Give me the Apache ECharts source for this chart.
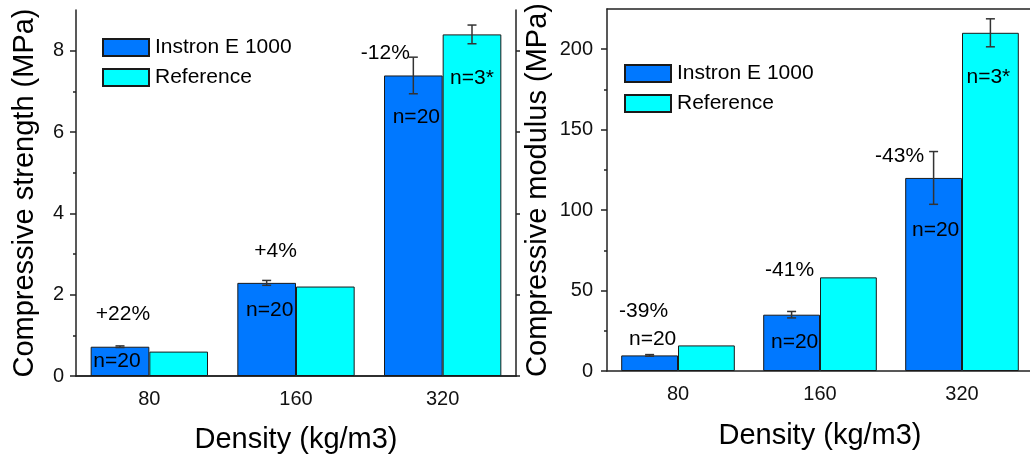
<!DOCTYPE html>
<html><head><meta charset="utf-8">
<script src="https://cdn.jsdelivr.net/npm/echarts@6/dist/echarts.min.js"></script>
<style>html,body{margin:0;padding:0;background:#fff}#c{width:1030px;height:454px}</style>
</head><body><div id="c"></div>
<script>
// ---------------- data ----------------
const categories = ['80', '160', '320'];
const seriesNames = ['Instron E 1000', 'Reference'];

const strengthInstron = [0.72, 2.29, 7.39];
const strengthInstronErr = [0.02, 0.06, 0.45];
const strengthReference = [0.60, 2.20, 8.40];
const strengthReferenceErr = [0, 0, 0.23];

const modulusInstron = [9.7, 35.0, 120.0];
const modulusInstronErr = [0.5, 2.0, 16.4];
const modulusReference = [15.9, 58.2, 210.2];
const modulusReferenceErr = [0, 0, 8.7];

const strengthTicks = [0, 2, 4, 6, 8];
const strengthMinorTicks = [1, 3, 5, 7];
const modulusTicks = [0, 50, 100, 150, 200];
const modulusMinorTicks = [25, 75, 125, 175];

const strengthChange = ['+22%', '+4%', '-12%'];
const modulusChange = ['-39%', '-41%', '-43%'];
const instronN = ['n=20', 'n=20', 'n=20'];
const referenceN = ['', '', 'n=3*'];

// ---------------- layout / style ----------------
const FONT = '"Liberation Sans", Arial, sans-serif';
const BLUE = '#0078FF';
const CYAN = '#00FFFF';
const AXIS = '#222';
// label pixel offsets relative to bar centre / bar top
const L = {
  sPct: [[3, -33], [9, -32], [-28, -22]],
  sN: [[-3, 14], [3, 27], [3, 42]],
  sRefN: [[0, 0], [0, 0], [0, 44]],
  mPct: [[-6, -44], [-2, -44], [-34, -22]],
  mN: [[3, -16], [3, 28], [2, 52]],
  mRefN: [[0, 0], [0, 0], [-2, 44]]
};

function errorSeries(xi, yi, values, errs, side) {
  return {
    type: 'custom', xAxisIndex: xi, yAxisIndex: yi, z: 5, silent: true,
    data: values.map((v, i) => [i, v, errs[i]]),
    renderItem(params, api) {
      const i = api.value(0), v = api.value(1), e = api.value(2);
      if (!e) return null;
      const band = api.size([1, 0])[0];
      const x = api.coord([i, v])[0] + side * 0.2 * band;
      const yT = api.coord([i, v + e])[1], yB = api.coord([i, v - e])[1];
      const c = 4.5;
      const st = { stroke: '#333', lineWidth: 1.5 };
      return { type: 'group', children: [
        { type: 'line', shape: { x1: x, y1: yT, x2: x, y2: yB }, style: st },
        { type: 'line', shape: { x1: x - c, y1: yT, x2: x + c, y2: yT }, style: st },
        { type: 'line', shape: { x1: x - c, y1: yB, x2: x + c, y2: yB }, style: st }
      ] };
    }
  };
}

function labelSeries(xi, yi, values, texts, side, offs) {
  return {
    type: 'custom', xAxisIndex: xi, yAxisIndex: yi, z: 6, silent: true,
    data: values.map((v, i) => [i, v]),
    renderItem(params, api) {
      const i = params.dataIndex;
      const t = texts[i];
      if (!t) return null;
      const band = api.size([1, 0])[0];
      const p = api.coord([api.value(0), api.value(1)]);
      const o = offs[i];
      return { type: 'text', x: p[0] + side * 0.2 * band + o[0], y: p[1] + o[1],
        style: { text: t, fill: '#000', font: '21px ' + FONT, align: 'center', verticalAlign: 'middle' } };
    }
  };
}

function xAxes(grid, name, gap) {
  return [
    { type: 'category', gridIndex: grid, data: categories, position: 'bottom',
      axisLine: { lineStyle: { color: AXIS, width: 1.5 } },
      axisTick: { alignWithLabel: true, length: 6, lineStyle: { color: AXIS, width: 1.5 } },
      axisLabel: { fontSize: 20, fontFamily: FONT, color: '#111', margin: 13 },
      name: name, nameLocation: 'middle', nameGap: gap,
      nameTextStyle: { fontSize: 29, fontFamily: FONT, color: '#000' } },
    { type: 'category', gridIndex: grid, data: categories, position: 'bottom',
      axisLine: { show: false }, axisLabel: { show: false },
      axisTick: { length: 3, lineStyle: { color: AXIS, width: 1.5 } } },
    { type: 'category', gridIndex: grid, data: categories, position: 'top',
      axisLine: { lineStyle: { color: AXIS, width: 1.5 } }, axisLabel: { show: false },
      axisTick: { length: 3, lineStyle: { color: AXIS, width: 1.5 } } }
  ];
}

function yAxes(grid, max, ticks, minor, name, gap, withRight, margin) {
  const a = [
    { type: 'value', gridIndex: grid, min: 0, max: max, position: 'left',
      splitLine: { show: false },
      axisLine: { show: true, lineStyle: { color: AXIS, width: 1.5 } },
      axisTick: { show: true, customValues: ticks, length: 6, lineStyle: { color: AXIS, width: 1.5 } },
      axisLabel: { customValues: ticks, fontSize: 20, fontFamily: FONT, color: '#111', margin: margin },
      name: name, nameLocation: 'middle', nameGap: gap,
      nameTextStyle: { fontSize: 29, fontFamily: FONT, color: '#000' } },
    { type: 'value', gridIndex: grid, min: 0, max: max, position: 'left',
      splitLine: { show: false }, axisLine: { show: false }, axisLabel: { show: false },
      axisTick: { show: true, customValues: minor, length: 3, lineStyle: { color: AXIS, width: 1.5 } } }
  ];
  if (withRight) a.push({ type: 'value', gridIndex: grid, min: 0, max: max, position: 'right',
      splitLine: { show: false }, axisLabel: { show: false },
      axisLine: { show: true, lineStyle: { color: AXIS, width: 1.5 } },
      axisTick: { show: true, customValues: ticks, length: 4, lineStyle: { color: AXIS, width: 1.5 } } });
  return a;
}

function bar(name, xi, yi, data, color) {
  return { type: 'bar', name: name, xAxisIndex: xi, yAxisIndex: yi, data: data,
    barGap: '0%', barCategoryGap: '20%',
    itemStyle: { color: color, borderColor: '#1a1a1a', borderWidth: 1 } };
}

function legend(left, top) {
  return { data: seriesNames, orient: 'vertical', left: left, top: top, padding: 0,
    itemWidth: 46, itemHeight: 17, itemGap: 9, icon: 'rect',
    textStyle: { fontSize: 21, fontFamily: FONT, color: '#000', lineHeight: 17, padding: [0, 0, 0, 1] } };
}

const chart = echarts.init(document.getElementById('c'), null, { renderer: 'canvas' });
chart.setOption({
  animation: false,
  backgroundColor: '#fff',
  grid: [
    { left: 76, top: 10, width: 440, height: 366, containLabel: false, outerBoundsMode: 'none' },
    { left: 607, top: 9, width: 426, height: 362, containLabel: false, outerBoundsMode: 'none' }
  ],
  legend: [legend(102, 37), legend(624, 63)],
  xAxis: [...xAxes(0, 'Density (kg/m3)', 49), ...xAxes(1, 'Density (kg/m3)', 50)],
  yAxis: [
    ...yAxes(0, 9, strengthTicks, strengthMinorTicks, 'Compressive strength (MPa)', 37, true, 12),
    ...yAxes(1, 225, modulusTicks, modulusMinorTicks, 'Compressive modulus (MPa)', 55, false, 14)
  ],
  series: [
    bar(seriesNames[0], 0, 0, strengthInstron, BLUE),
    bar(seriesNames[1], 0, 0, strengthReference, CYAN),
    errorSeries(0, 0, strengthInstron, strengthInstronErr, -1),
    errorSeries(0, 0, strengthReference, strengthReferenceErr, 1),
    labelSeries(0, 0, strengthInstron, strengthChange, -1, L.sPct),
    labelSeries(0, 0, strengthInstron, instronN, -1, L.sN),
    labelSeries(0, 0, strengthReference, referenceN, 1, L.sRefN),

    bar(seriesNames[0], 3, 3, modulusInstron, BLUE),
    bar(seriesNames[1], 3, 3, modulusReference, CYAN),
    errorSeries(3, 3, modulusInstron, modulusInstronErr, -1),
    errorSeries(3, 3, modulusReference, modulusReferenceErr, 1),
    labelSeries(3, 3, modulusInstron, modulusChange, -1, L.mPct),
    labelSeries(3, 3, modulusInstron, instronN, -1, L.mN),
    labelSeries(3, 3, modulusReference, referenceN, 1, L.mRefN)
  ]
});
</script></body></html>
